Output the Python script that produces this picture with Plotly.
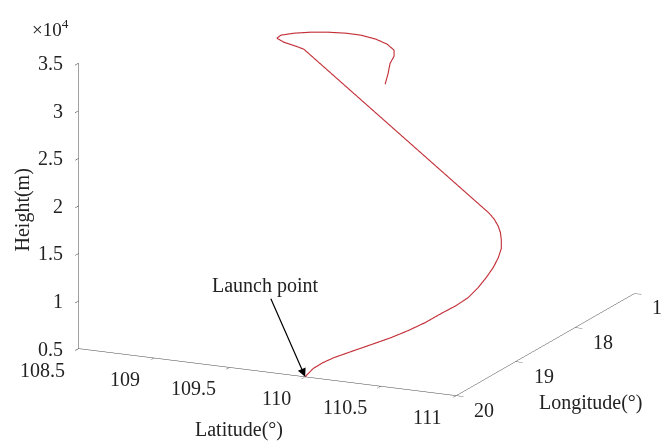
import math
import plotly.graph_objects as go

# Trajectory samples: latitude (deg), longitude (deg), height (m)
latitude = [110.0, 109.983, 110.007, 110.047, 110.134, 110.222, 110.303, 110.374,
            110.445, 110.500, 110.560, 110.604, 110.617, 110.620, 110.617, 110.604,
            110.589, 110.567, 110.540, 110.526, 110.492, 110.462,
            109.502, 109.448, 109.363, 109.296, 109.298, 109.359, 109.451, 109.553,
            109.660, 109.761, 109.872, 109.970, 110.047, 110.077, 110.086, 110.116,
            110.132]
longitude = [20.0, 19.824, 19.718, 19.633, 19.518, 19.404, 19.322, 19.217,
             19.110, 18.982, 18.881, 18.790, 18.656, 18.528, 18.403, 18.284,
             18.195, 18.139, 18.087, 18.086, 18.066, 18.074,
             18.755, 18.752, 18.738, 18.685, 18.623, 18.559, 18.506, 18.478,
             18.448, 18.451, 18.480, 18.544, 18.622, 18.699, 18.788, 18.898,
             18.989]
height = [5000, 5200, 5500, 5800, 6300, 6800, 7300, 7800,
          8400, 9000, 9600, 10200, 10800, 11400, 12000, 12600,
          13200, 13800, 14400, 15000, 15600, 16200,
          34000, 34200, 34400, 34500, 34600, 34700, 34800, 34900,
          34900, 34900, 34800, 34700, 34500, 34200, 33800, 33200,
          32400]

lat_ticks = [108.5, 109, 109.5, 110, 110.5, 111]
lat_tick_text = ["108.5", "109", "109.5", "110", "110.5", "111"]
lon_ticks = [17, 18, 19, 20]
lon_tick_text = ["17", "18", "19", "20"]
h_ticks = [5000, 10000, 15000, 20000, 25000, 30000, 35000]
h_tick_text = ["0.5", "1", "1.5", "2", "2.5", "3", "3.5"]

LAT_MIN, LAT_MAX = 108.5, 111
LON_MIN, LON_MAX = 17, 20
H_MIN, H_MAX = 5000, 35000

FONT = "Liberation Serif"
TXT = "#222222"
FS = 20


def inside(v, lo, hi):
    # keep label anchors a hair inside the axis range so they stay visible
    eps = (hi - lo) * 1e-4
    return min(max(v, lo + eps), hi - eps)


fig = go.Figure()
fig.add_trace(go.Scatter3d(
    x=longitude, y=latitude, z=height,
    mode="lines",
    line=dict(color="#c4303a", width=2.3),
    showlegend=False,
    hoverinfo="skip",
))

axis_common = dict(
    showbackground=False, showgrid=False, zeroline=False,
    showline=True, linecolor="#444444", linewidth=1,
    ticks="inside", ticklen=8, tickwidth=1.2, tickcolor="#444444",
    showspikes=False, showticklabels=False,
    title=dict(text=""),
)


def label(x, y, z, text, xanchor, yanchor, xshift, yshift, angle=0, size=FS):
    return dict(x=inside(x, LON_MIN, LON_MAX), y=inside(y, LAT_MIN, LAT_MAX),
                z=inside(z, H_MIN, H_MAX), text=text, showarrow=False,
                xanchor=xanchor, yanchor=yanchor, xshift=xshift, yshift=yshift,
                textangle=angle, font=dict(family=FONT, size=size, color=TXT))


scene_ann = []
# latitude ticks along the front edge
for v, t in zip(lat_ticks, lat_tick_text):
    scene_ann.append(label(LON_MAX, v, H_MIN, t, "right", "middle", -12, -21))
# longitude ticks along the right edge
for v, t in zip(lon_ticks, lon_tick_text):
    scene_ann.append(label(v, LAT_MAX, H_MIN, t, "left", "middle", 16, -14))
# height ticks along the vertical edge
for v, t in zip(h_ticks, h_tick_text):
    scene_ann.append(label(LON_MAX, LAT_MIN, v, t, "right", "middle", -14, 0))
# axis titles
scene_ann.append(label(LON_MAX, 109.75, H_MIN, "Latitude(°)", "center", "middle", -28, -57))
scene_ann.append(label(18.5, LAT_MAX, H_MIN, "Longitude(°)", "center", "middle", 46, -58))
scene_ann.append(label(LON_MAX, LAT_MIN, 20000, "Height(m)", "center", "middle", -56, -4, angle=-90))
# launch point marker
scene_ann.append(dict(
    x=inside(longitude[0], LON_MIN, LON_MAX), y=latitude[0], z=inside(height[0], H_MIN, H_MAX),
    text="Launch point",
    showarrow=True, arrowhead=2, arrowsize=1.4, arrowwidth=1.2,
    arrowcolor="black",
    ax=-40, ay=-91,
    font=dict(family=FONT, size=FS, color=TXT),
))

# orthographic view: azimuth / elevation of the viewing direction
az = math.radians(25.0)
el = math.radians(15.5)
dist = 2.0
zoom = 1.913
view = (math.cos(el) * math.cos(az), math.cos(el) * math.sin(az), math.sin(el))
# look-at point, moved so the box sits right of and above the page centre
look = (0.0951, -0.0832, -0.1841)

fig.update_layout(
    width=662, height=441,
    margin=dict(l=0, r=0, t=0, b=0),
    paper_bgcolor="white",
    showlegend=False,
    scene=dict(
        domain=dict(x=[0, 1], y=[0, 1]),
        xaxis=dict(axis_common, range=[LON_MIN, LON_MAX], tickvals=lon_ticks),
        yaxis=dict(axis_common, range=[LAT_MIN, LAT_MAX], tickvals=lat_ticks),
        zaxis=dict(axis_common, range=[H_MIN, H_MAX], tickvals=h_ticks),
        aspectmode="manual",
        aspectratio=dict(x=1.0 * zoom, y=0.988 * zoom, z=0.702 * zoom),
        camera=dict(
            projection=dict(type="orthographic"),
            up=dict(x=0, y=0, z=1),
            center=dict(x=look[0], y=look[1], z=look[2]),
            eye=dict(x=look[0] + dist * view[0],
                     y=look[1] + dist * view[1],
                     z=look[2] + dist * view[2]),
        ),
        annotations=scene_ann,
    ),
    annotations=[dict(
        x=30 / 662, y=1 - 28 / 441, xref="paper", yref="paper",
        xanchor="left", yanchor="middle",
        text="×10<sup>4</sup>", showarrow=False,
        font=dict(family=FONT, size=19, color=TXT),
    )],
)

fig.write_html("out.html")
